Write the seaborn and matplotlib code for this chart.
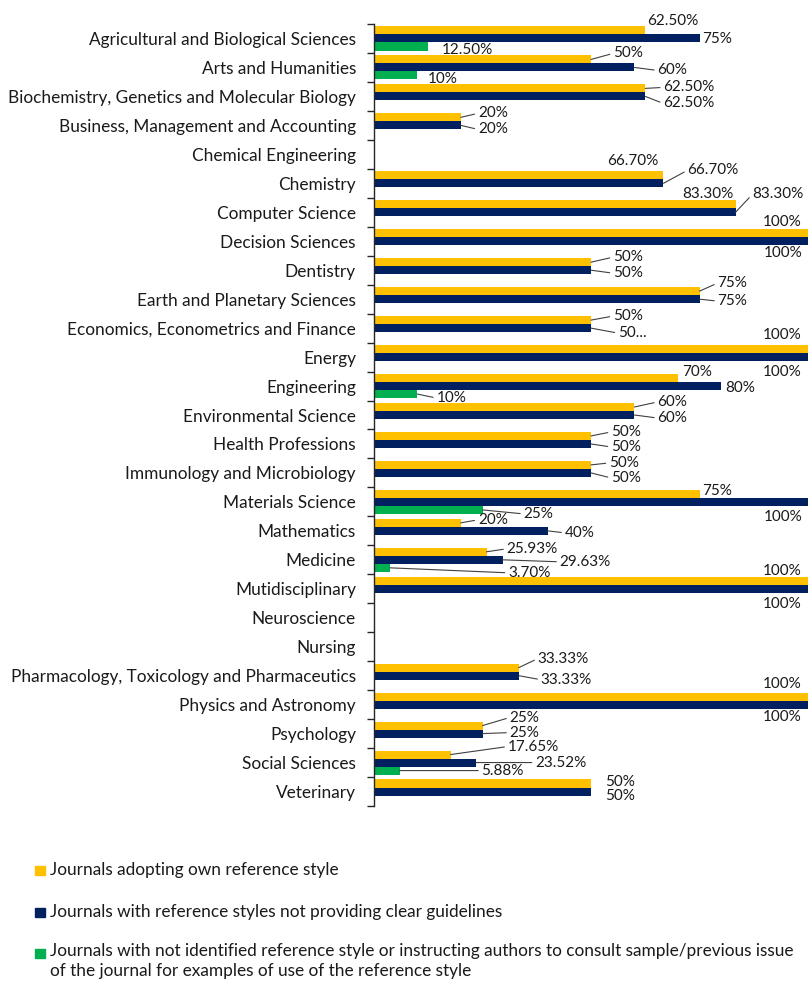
import numpy as np
import pandas as pd
import matplotlib
matplotlib.use("Agg")
import matplotlib.pyplot as plt
from matplotlib.patches import Rectangle
import seaborn as sns

categories = [
    "Agricultural and Biological Sciences", "Arts and Humanities",
    "Biochemistry, Genetics and Molecular Biology", "Business, Management and Accounting",
    "Chemical Engineering", "Chemistry", "Computer Science", "Decision Sciences",
    "Dentistry", "Earth and Planetary Sciences", "Economics, Econometrics and Finance",
    "Energy", "Engineering", "Environmental Science", "Health Professions",
    "Immunology and Microbiology", "Materials Science", "Mathematics", "Medicine",
    "Mutidisciplinary", "Neuroscience", "Nursing",
    "Pharmacology, Toxicology and Pharmaceutics", "Physics and Astronomy",
    "Psychology", "Social Sciences", "Veterinary",
]
series_names = [
    "Journals adopting own reference style",
    "Journals with reference styles not providing clear guidelines",
    "Journals with not identified reference style or instructing authors to consult sample/previous issue\nof the journal for examples of use of the reference style",
]
own_style = [62.5, 50, 62.5, 20, None, 66.7, 83.3, 100, 50, 75, 50, 100, 70, 60, 50, 50,
             75, 20, 25.93, 100, None, None, 33.33, 100, 25, 17.65, 50]
unclear_style = [75, 60, 62.5, 20, None, 66.7, 83.3, 100, 50, 75, 50, 100, 80, 60, 50, 50,
                 100, 40, 29.63, 100, None, None, 33.33, 100, 25, 23.52, 50]
not_identified = [12.5, 10, None, None, None, None, None, None, None, None, None, None, 10,
                  None, None, None, 25, None, 3.70, None, None, None, None, None, None, 5.88, None]
label_text_override = {(10, 1): "50..."}

colors = ["#FFC000", "#002060", "#00B050"]

# label layout: (dx px, dy px, ha, leader line)
default_layout = {0: (18, -5, "left", True), 1: (18, 4, "left", True), 2: (14, 4, "left", False)}
layout = {
    (0, 0): (2, -9, "left", False), (0, 1): (3, 1, "left", False), (0, 2): (14, 4, "left", False),
    (1, 0): (22, -6, "left", True), (1, 1): (23, 3, "left", True), (1, 2): (10, 4, "left", False),
    (2, 0): (18, -1, "left", True), (2, 1): (18, 7, "left", True),
    (3, 0): (17, -4, "left", True), (3, 1): (17, 4, "left", True),
    (5, 0): (-5, -14, "right", False), (5, 1): (24, -13, "left", True),
    (6, 0): (-2, -10, "right", False), (6, 1): (17, -18, "left", True),
    (7, 0): (-6, -11, "right", False), (7, 1): (-5, 12, "right", False),
    (8, 0): (22, -5, "left", True), (8, 1): (22, 3, "left", True),
    (9, 0): (18, -8, "left", True), (9, 1): (18, 2, "left", True),
    (10, 0): (22, -4, "left", True), (10, 1): (27, 5, "left", True),
    (11, 0): (-6, -14, "right", False), (11, 1): (-6, 15, "right", False),
    (12, 0): (4, -6, "left", False), (12, 1): (4, 2, "left", False), (12, 2): (19, 4, "left", True),
    (13, 0): (23, -5, "left", True), (13, 1): (23, 3, "left", True),
    (14, 0): (20, -4, "left", True), (14, 1): (20, 3, "left", True),
    (15, 0): (18, -2, "left", True), (15, 1): (20, 5, "left", True),
    (16, 0): (3, -3, "left", False), (16, 1): (-5, 15, "right", False), (16, 2): (41, 4, "left", True),
    (17, 0): (17, -3, "left", True), (17, 1): (17, 2, "left", True),
    (18, 0): (20, -3, "left", True), (18, 1): (57, 2, "left", True), (18, 2): (118, 5, "left", True),
    (19, 0): (-6, -10, "right", False), (19, 1): (-6, 15, "right", False),
    (22, 0): (19, -9, "left", True), (22, 1): (22, 4, "left", True),
    (23, 0): (-6, -13, "right", False), (23, 1): (-6, 12, "right", False),
    (24, 0): (27, -8, "left", True), (24, 1): (27, -1, "left", True),
    (25, 0): (57, -8, "left", True), (25, 1): (59, 0, "left", True), (25, 2): (82, 0, "left", True),
    (26, 0): (14, -2, "left", False), (26, 1): (14, 4, "left", False),
}

sns.set_theme(style="white")
FONT = ["Lato", "DejaVu Sans"]
plt.rcParams["font.family"] = FONT
FS_LAB = 11
FS_CAT = 12.4
FS_LEG = 12.4
TXT = "#1a1a1a"

rows = []
for s_name, vals in zip(series_names, [own_style, unclear_style, not_identified]):
    for c, v in zip(categories, vals):
        rows.append({"Category": c, "Series": s_name, "Value": v})
df = pd.DataFrame(rows)
df["Plot"] = df["Value"].fillna(0)

W, H = 808, 983
fig = plt.figure(figsize=(W / 100, H / 100), dpi=100)
ax_left, ax_top, ax_bottom = 374, 24, 806
ax = fig.add_axes([ax_left / W, 1 - ax_bottom / H, 1 - ax_left / W, (ax_bottom - ax_top) / H])

sns.barplot(data=df, y="Category", x="Plot", hue="Series", order=categories,
            hue_order=series_names, palette=colors, orient="h", width=0.83,
            saturation=1, linewidth=0, legend=False, errorbar=None, ax=ax)

ax.set_xlim(0, 100)
ax.set_ylim(len(categories) - 0.5, -0.5)
ax.set_xlabel("")
ax.set_ylabel("")
ax.set_xticks([])
for sp in ["top", "right", "bottom"]:
    ax.spines[sp].set_visible(False)
ax.spines["left"].set_color("#262626")
ax.spines["left"].set_linewidth(1.0)

ax.set_yticks(np.arange(-0.5, len(categories), 1.0))
ax.set_yticklabels([])
ax.set_yticks(np.arange(len(categories)), minor=True)
ax.set_yticklabels(categories, minor=True, fontsize=FS_CAT, color=TXT)
ax.tick_params(axis="y", which="major", length=5, width=1.0, color="#262626", direction="out", left=True)
ax.tick_params(axis="y", which="minor", length=0, pad=13, left=True)

px = 0.72
all_vals = [own_style, unclear_style, not_identified]
for si, cont in enumerate(ax.containers):
    for ci, patch in enumerate(cont.patches):
        v = all_vals[si][ci]
        if v is None:
            continue
        txt = label_text_override.get((ci, si))
        if txt is None:
            txt = f"{int(v)}%" if float(v).is_integer() else f"{v:.2f}%"
        dx, dy, ha, leader = layout.get((ci, si), default_layout[si])
        xe = patch.get_x() + patch.get_width()
        yc = patch.get_y() + patch.get_height() / 2
        kw = {}
        if leader:
            kw["arrowprops"] = dict(arrowstyle="-", color="#404040", lw=0.8,
                                    shrinkA=0, shrinkB=0, relpos=(0, 0.5))
        ax.annotate(txt, xy=(xe, yc), xytext=(dx * px, -dy * px), textcoords="offset points",
                    ha=ha, va="center", fontsize=FS_LAB, color=TXT,
                    annotation_clip=False, **kw)

# legend
leg_y = [870, 912, 953]
for i, (col, name, y) in enumerate(zip(colors, series_names, leg_y)):
    fig.add_artist(Rectangle((35 / W, 1 - (y + 4.5) / H), 10 / W, 9 / H, color=col,
                             transform=fig.transFigure))
    if "\n" in name:
        fig.text(50 / W, 1 - (y - 10) / H, name, ha="left", va="top", fontsize=FS_LEG,
                 color=TXT, linespacing=1.33)
    else:
        fig.text(50 / W, 1 - y / H, name, ha="left", va="center", fontsize=FS_LEG, color=TXT)

fig.savefig("out.png", dpi=100)
